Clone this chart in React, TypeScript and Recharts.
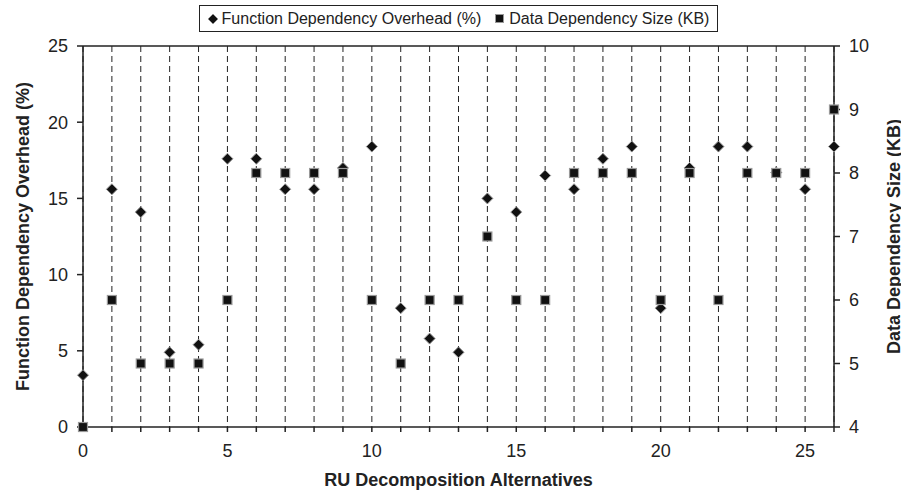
import { ScatterChart, Scatter, XAxis, YAxis, CartesianGrid, ReferenceLine } from "recharts";

const alternatives = [0, 1, 2, 3, 4, 5, 6, 7, 8, 9, 10, 11, 12, 13, 14, 15, 16, 17, 18, 19, 20, 21, 22, 23, 24, 25, 26];
const overhead = [3.4, 15.6, 14.1, 4.9, 5.4, 17.6, 17.6, 15.6, 15.6, 17.0, 18.4, 7.8, 5.8, 4.9, 15.0, 14.1, 16.5, 15.6, 17.6, 18.4, 7.8, 17.0, 18.4, 18.4, 16.7, 15.6, 18.4];
const dataSize = [4, 6, 5, 5, 5, 6, 8, 8, 8, 8, 6, 5, 6, 6, 7, 6, 6, 8, 8, 8, 6, 8, 6, 8, 8, 8, 9];
const leftTicks = [0, 5, 10, 15, 20, 25];
const rightTicks = [4, 5, 6, 7, 8, 9, 10];

const overheadData = alternatives.map((x, i) => ({ x, y: overhead[i] }));
const sizeData = alternatives.map((x, i) => ({ x, y: dataSize[i] }));

const FONT = '"Liberation Sans", Arial, sans-serif';
const INK = "#222";

const tickStyle = { fontSize: 18, fill: INK, fontFamily: FONT };

function Diamond(props: any) {
  const { cx, cy } = props;
  const r = 5.5;
  return (
    <polygon
      points={`${cx},${cy - r} ${cx + r},${cy} ${cx},${cy + r} ${cx - r},${cy}`}
      fill="#111"
      stroke="#999"
      strokeWidth={1}
    />
  );
}

function Square(props: any) {
  const { cx, cy } = props;
  const s = 9;
  return <rect x={cx - s / 2} y={cy - s / 2} width={s} height={s} fill="#111" stroke="#999" strokeWidth={1.2} />;
}

const leftTitle = (props: any) => {
  const vb = props.viewBox;
  const x = vb.x + 29;
  const y = vb.y + vb.height / 2;
  return (
    <text x={x} y={y} transform={`rotate(-90 ${x} ${y})`} textAnchor="middle" fontSize={18} fontWeight="bold" fill={INK} fontFamily={FONT}>
      Function Dependency Overhead (%)
    </text>
  );
};

const rightTitle = (props: any) => {
  const vb = props.viewBox;
  const x = vb.x + 66;
  const y = vb.y + vb.height / 2;
  return (
    <text x={x} y={y} transform={`rotate(-90 ${x} ${y})`} textAnchor="middle" fontSize={18} fontWeight="bold" fill={INK} fontFamily={FONT}>
      Data Dependency Size (KB)
    </text>
  );
};

const bottomTitle = (props: any) => {
  const vb = props.viewBox;
  return (
    <text x={vb.x + vb.width / 2} y={vb.y + 59} textAnchor="middle" fontSize={18} fontWeight="bold" fill={INK} fontFamily={FONT}>
      RU Decomposition Alternatives
    </text>
  );
};

function LegendBox() {
  return (
    <div
      style={{
        position: "absolute",
        left: 199,
        top: 5,
        width: 519,
        height: 27,
        boxSizing: "border-box",
        border: `1.5px solid ${INK}`,
        background: "#fff",
        display: "flex",
        alignItems: "center",
        justifyContent: "center",
        fontFamily: FONT,
        fontSize: 16,
        color: INK,
        whiteSpace: "nowrap",
      }}
    >
      <svg width={10} height={10} style={{ marginRight: 4 }}>
        <polygon points="5,0 10,5 5,10 0,5" fill="#111" stroke="#999" strokeWidth={0.8} />
      </svg>
      <span>Function Dependency Overhead (%)</span>
      <svg width={9} height={9} style={{ marginLeft: 14, marginRight: 5 }}>
        <rect x={0.5} y={0.5} width={8} height={8} fill="#111" stroke="#999" strokeWidth={1} />
      </svg>
      <span>Data Dependency Size (KB)</span>
    </div>
  );
}

export default function App() {
  return (
    <div style={{ position: "absolute", left: 0, top: 0, width: 901, height: 490, background: "#fff" }}>
      <ScatterChart width={901} height={490} margin={{ top: 46, right: 0, bottom: 0, left: 0 }}>
        <CartesianGrid yAxisId="left" horizontal={false} stroke={INK} strokeDasharray="6 4" />
        <XAxis
          type="number"
          dataKey="x"
          domain={[0, 26]}
          ticks={alternatives}
          interval={0}
          tickFormatter={(v: number) => (v % 5 === 0 ? String(v) : "")}
          height={63}
          tickSize={5}
          tickMargin={12}
          tick={tickStyle}
          stroke={INK}
          strokeWidth={1.5}
          label={bottomTitle}
        />
        <YAxis
          yAxisId="left"
          type="number"
          dataKey="y"
          domain={[0, 25]}
          ticks={leftTicks}
          width={83}
          tickSize={6}
          tickMargin={9}
          tick={tickStyle}
          stroke={INK}
          strokeWidth={1.5}
          label={leftTitle}
        />
        <YAxis
          yAxisId="right"
          orientation="right"
          type="number"
          dataKey="y"
          domain={[4, 10]}
          ticks={rightTicks}
          width={67}
          tickSize={6}
          tickMargin={9}
          tick={tickStyle}
          stroke={INK}
          strokeWidth={1.5}
          label={rightTitle}
        />
        <ReferenceLine yAxisId="left" y={25} stroke={INK} strokeWidth={1.5} />
        <Scatter yAxisId="left" data={overheadData} shape={Diamond} isAnimationActive={false} />
        <Scatter yAxisId="right" data={sizeData} shape={Square} isAnimationActive={false} />
      </ScatterChart>
      <LegendBox />
    </div>
  );
}
